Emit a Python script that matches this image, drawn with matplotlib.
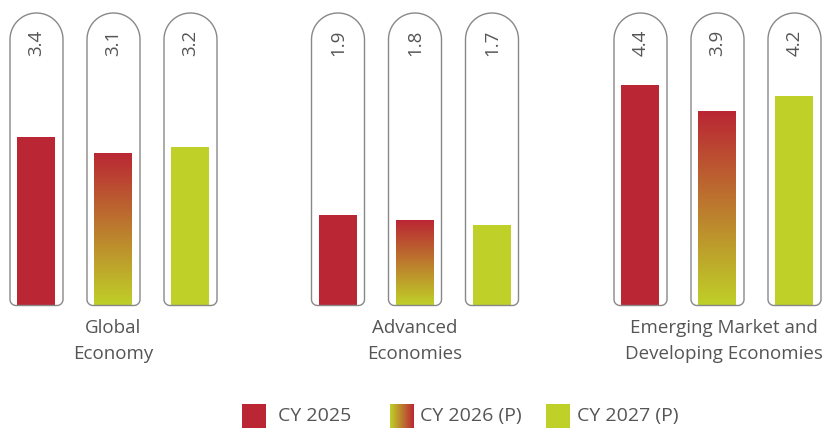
import numpy as np
import matplotlib.pyplot as plt
from matplotlib.path import Path
from matplotlib.patches import PathPatch, Rectangle
import matplotlib.transforms as mtransforms

groups = ['Global\nEconomy', 'Advanced\nEconomies', 'Emerging Market and\nDeveloping Economies']
series = ['CY 2025', 'CY 2026 (P)', 'CY 2027 (P)']
cy2025 = [3.4, 1.9, 4.4]
cy2026 = [3.1, 1.8, 3.9]
cy2027 = [3.2, 1.7, 4.2]

RED = np.array([186, 38, 52]) / 255
GREEN = np.array([191, 208, 40]) / 255
TXT = '#555555'
EDGE = '#888888'
FONT = 'Open Sans'

W, H = 824, 428
fig = plt.figure(figsize=(W / 100, H / 100), dpi=100)

# main axes: x in pixels, y in values; baseline drawn at 305 px from top
ky = 51.9      # px per unit
base = 0.164
ax_h = 309
ax = fig.add_axes([0, (H - ax_h) / H, 1, ax_h / H])
ax.set_xlim(0, W)
ax.set_ylim(base - 4 / ky, base + 305 / ky)
ax.axis('off')

gx = np.array([113.5, 415, 717.5])
off = np.array([-77, 0, 77])
bw, cw = 38, 53


def capsule(xc):
    # outline in px units above baseline, then mapped into data coordinates
    rt, rb, top, bot = cw / 2, 6, 292, -0.5
    l, r = xc - cw / 2, xc + cw / 2
    pts = [(l, bot + rb), (l, top - rt)]
    a = np.linspace(np.pi, 0, 40)
    pts += list(zip(xc + rt * np.cos(a), top - rt + rt * np.sin(a)))
    pts += [(r, bot + rb)]
    a = np.linspace(0, -np.pi / 2, 10)
    pts += list(zip(r - rb + rb * np.cos(a), bot + rb + rb * np.sin(a)))
    a = np.linspace(-np.pi / 2, -np.pi, 10)
    pts += list(zip(l + rb + rb * np.cos(a), bot + rb + rb * np.sin(a)))
    pts = np.array(pts)
    tr = mtransforms.Affine2D().scale(1, 1 / ky).translate(0, base) + ax.transData
    ax.add_patch(PathPatch(Path(pts, closed=True), transform=tr, facecolor='none',
                           edgecolor=EDGE, lw=1.0, zorder=3))


grad = np.linspace(0, 1, 256)[:, None, None]
vgrad = RED * (1 - grad) + GREEN * grad   # top red -> bottom green

for vals, k in zip([cy2025, cy2026, cy2027], range(3)):
    xs = gx + off[k]
    for x, v in zip(xs, vals):
        capsule(x)
        if k == 0:
            ax.bar(x, v - base, bottom=base, width=bw, color=RED, zorder=2)
        elif k == 2:
            ax.bar(x, v - base, bottom=base, width=bw, color=GREEN, zorder=2)
        else:
            b = ax.bar(x, v - base, bottom=base, width=bw, color='none', zorder=2)[0]
            im = ax.imshow(vgrad, extent=[x - bw / 2, x + bw / 2, base, v],
                           aspect='auto', zorder=2, interpolation='bilinear')
            im.set_clip_path(b)
        ax.text(x, base + 275 / ky, f'{v:.1f}', rotation=90, ha='center', va='top',
                fontsize=13.5, color=TXT, family=FONT, zorder=4)

ax.set_xlim(0, W)
ax.set_ylim(base - 4 / ky, base + 305 / ky)

lab_shift = [0, 0, 6]
for x, g, s in zip(gx, groups, lab_shift):
    ax.annotate(g, (x + s, H - 341), xycoords=('data', 'figure pixels'), ha='center',
                va='center', fontsize=13.5, color=TXT, family=FONT, linespacing=1.55,
                annotation_clip=False)

# legend strip
lax = fig.add_axes([0, 0, 1, 30 / H])
lax.set_xlim(0, W)
lax.set_ylim(0, 30)
lax.axis('off')
sq_x = [242, 390, 546]
tx_x = [278, 420, 577]
t = np.linspace(0, 1, 256)[None, :, None]
hgrad = GREEN * (1 - t) + RED * t
for i, (s, sx, tx) in enumerate(zip(series, sq_x, tx_x)):
    if i == 1:
        lax.imshow(hgrad, extent=[sx, sx + 24, 0, 24], aspect='auto', interpolation='bilinear')
    else:
        lax.add_patch(Rectangle((sx, 0), 24, 24, color=RED if i == 0 else GREEN, lw=0))
    lax.text(tx, 12, s, ha='left', va='center', fontsize=14, color=TXT, family=FONT)
lax.set_xlim(0, W)
lax.set_ylim(0, 30)

fig.savefig('out.png', dpi=100)
